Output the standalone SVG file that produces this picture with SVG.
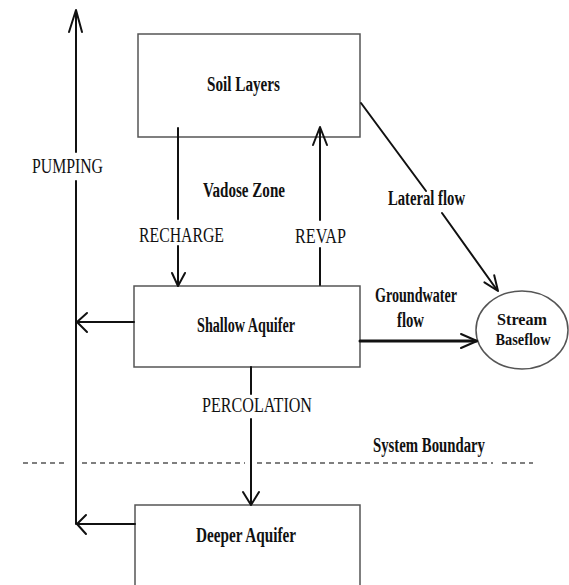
<svg xmlns="http://www.w3.org/2000/svg" width="569" height="585" viewBox="0 0 569 585">
  <style>
    .box { fill: #ffffff; stroke: #555555; stroke-width: 1.5; }
    .flow { fill: none; stroke: #111111; stroke-width: 2; stroke-linecap: round; stroke-linejoin: round; }
    .thick { stroke-width: 3; }
    .boundary { fill: none; stroke: #555555; stroke-width: 1.3; stroke-dasharray: 5 4; }
    text { font-family: "Liberation Serif", "Times New Roman", serif; font-size: 20px; fill: #111111; }
    .b { font-weight: bold; }
    .small { font-size: 17px; }
  </style>
  <rect width="569" height="585" fill="#ffffff"/>

  <!-- system boundary -->
  <g id="system-boundary">
    <line class="boundary" x1="23" y1="463" x2="68" y2="463"/>
    <line class="boundary" x1="82" y1="463" x2="245" y2="463"/>
    <line class="boundary" x1="257" y1="463" x2="493" y2="463"/>
    <line class="boundary" x1="502" y1="463" x2="533" y2="463"/>
    <text class="b" x="373" y="452" textLength="112" lengthAdjust="spacingAndGlyphs">System Boundary</text>
  </g>

  <!-- nodes -->
  <g id="soil-layers">
    <rect class="box" x="138" y="34" width="222" height="103"/>
    <text class="b" x="207" y="91" textLength="73" lengthAdjust="spacingAndGlyphs">Soil Layers</text>
  </g>
  <g id="shallow-aquifer">
    <rect class="box" x="134" y="286" width="226" height="81"/>
    <text class="b" x="197" y="332" textLength="98" lengthAdjust="spacingAndGlyphs">Shallow Aquifer</text>
  </g>
  <g id="deeper-aquifer">
    <rect class="box" x="135" y="505" width="225" height="95"/>
    <text class="b" x="196" y="542" textLength="100" lengthAdjust="spacingAndGlyphs">Deeper Aquifer</text>
  </g>
  <g id="stream-baseflow">
    <ellipse class="box" cx="522" cy="330" rx="46" ry="39"/>
    <text class="b small" x="522" y="325" text-anchor="middle" textLength="50" lengthAdjust="spacingAndGlyphs">Stream</text>
    <text class="b small" x="523" y="345" text-anchor="middle" textLength="55" lengthAdjust="spacingAndGlyphs">Baseflow</text>
  </g>
  <g id="vadose-zone">
    <text class="b" x="203" y="197" textLength="82" lengthAdjust="spacingAndGlyphs">Vadose Zone</text>
  </g>

  <!-- connectors -->
  <g id="connectors">
    <!-- pumping -->
    <line class="flow" x1="76" y1="11" x2="76" y2="152"/>
    <line class="flow" x1="76" y1="181" x2="76" y2="524"/>
    <path class="flow" d="M69,32 L76,10 L82,32"/>
    <text x="32" y="173" textLength="71" lengthAdjust="spacingAndGlyphs">PUMPING</text>
    <line class="flow" x1="134" y1="322" x2="77" y2="322"/>
    <path class="flow" d="M87,313 L77,322 L87,332"/>
    <line class="flow" x1="135" y1="524" x2="77" y2="524"/>
    <path class="flow" d="M86,515 L77,524 L86,534"/>

    <!-- recharge -->
    <line class="flow" x1="178" y1="128" x2="178" y2="219"/>
    <line class="flow" x1="178" y1="246" x2="178" y2="285"/>
    <path class="flow" d="M172,273 L178,286 L185,273"/>
    <text x="139" y="242" textLength="85" lengthAdjust="spacingAndGlyphs">RECHARGE</text>

    <!-- revap -->
    <line class="flow" x1="320" y1="285" x2="320" y2="248"/>
    <line class="flow" x1="320" y1="220" x2="320" y2="128"/>
    <path class="flow" d="M313,145 L320,127 L327,145"/>
    <text x="295" y="243" textLength="51" lengthAdjust="spacingAndGlyphs">REVAP</text>

    <!-- lateral flow -->
    <line class="flow" x1="361" y1="103" x2="426" y2="191"/>
    <line class="flow" x1="442" y1="213" x2="497" y2="290"/>
    <path class="flow" d="M484.4,282.3 L498,291 L494.2,275.3"/>
    <text class="b" x="388" y="205" textLength="77" lengthAdjust="spacingAndGlyphs">Lateral flow</text>

    <!-- groundwater flow -->
    <line class="flow thick" x1="360" y1="341" x2="476" y2="341"/>
    <path class="flow" d="M461,334 L477,341 L461,348"/>
    <text class="b" x="375" y="302" textLength="82" lengthAdjust="spacingAndGlyphs">Groundwater</text>
    <text class="b" x="397" y="327" textLength="27" lengthAdjust="spacingAndGlyphs">flow</text>

    <!-- percolation -->
    <line class="flow" x1="251" y1="367" x2="251" y2="394"/>
    <line class="flow" x1="251" y1="419" x2="251" y2="504"/>
    <path class="flow" d="M243,492 L251,505 L259,492"/>
    <text x="202" y="412" textLength="110" lengthAdjust="spacingAndGlyphs">PERCOLATION</text>
  </g>
</svg>
